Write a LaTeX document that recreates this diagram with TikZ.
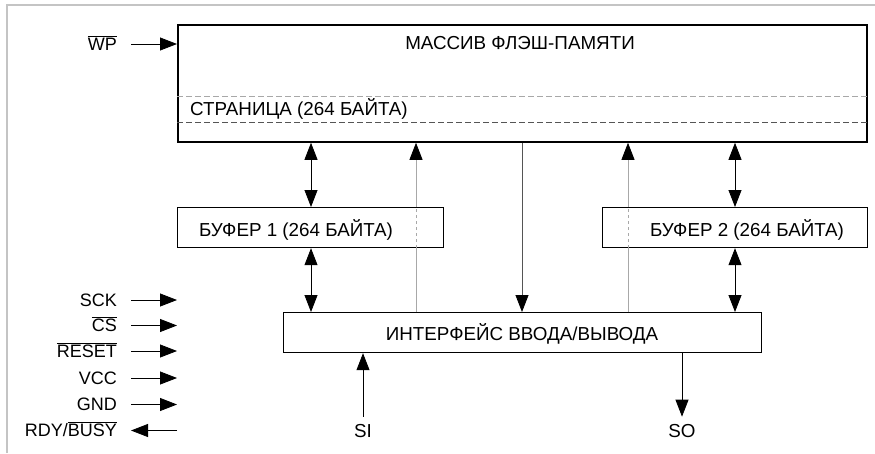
\documentclass[tikz,border=0pt]{standalone}
\usepackage{fontspec}
\setmainfont{Liberation Sans}
\usetikzlibrary{arrows.meta}
\newcommand\myovl[1]{$\overline{\mbox{#1}}$}
\definecolor{frame}{HTML}{C4C4C4}
\definecolor{lgrey}{HTML}{A8A8A8}
\definecolor{dgrey}{HTML}{555555}
\tikzset{
  txt/.style={font=\fontsize{18.8}{22}\selectfont, inner sep=0pt},
  lbl/.style={font=\fontsize{18}{21}\selectfont, inner sep=0pt, anchor=base east},
  blk/.style={draw, line width=1.2pt, inner sep=0pt, anchor=north west},
  tip/.style={line width=0.8pt, -{Triangle[length=17pt,width=13pt,color=black]}},
  dbl/.style={line width=0.8pt, {Triangle[length=17pt,width=13pt,color=black]}-{Triangle[length=17pt,width=13pt,color=black]}},
  faint/.style={draw=lgrey, line width=0.8pt},
  pagedash/.style={dash pattern=on 6pt off 3pt, line width=0.8pt}
}
\begin{document}
\begin{tikzpicture}[x=1pt,y=-1pt]
\useasboundingbox (0,0) rectangle (875,453);
\draw[frame, line width=2pt] (7,453) -- (7,4.5) -- (875,4.5);

% blocks
\node[blk, line width=1.8pt, minimum width=689pt, minimum height=117pt] (mem) at (177,24) {};
\node[blk, minimum width=266pt, minimum height=40pt] (buf1) at (177,207) {};
\node[blk, minimum width=265pt, minimum height=40pt] (buf2) at (602,207) {};
\node[blk, minimum width=478pt, minimum height=40pt] (io) at (283,312) {};

% texts
\node[txt, anchor=base] (memt) at (520,49) {МАССИВ ФЛЭШ-ПАМЯТИ};
\node[txt, anchor=base west] (paget) at (190,115) {СТРАНИЦА (264 БАЙТА)};
\draw[pagedash, draw=lgrey] ([yshift=-72pt]mem.north west) -- ([yshift=-72pt]mem.north east);
\draw[pagedash, draw=dgrey] ([yshift=-98pt]mem.north west) -- ([yshift=-98pt]mem.north east);
\node[txt, anchor=base] (buf1t) at (296,236) {БУФЕР 1 (264 БАЙТА)};
\node[txt, anchor=base] (buf2t) at (747,236) {БУФЕР 2 (264 БАЙТА)};
\node[txt, anchor=base] (iot) at (522,340) {ИНТЕРФЕЙС ВВОДА/ВЫВОДА};

% x positions of vertical connectors
\coordinate (xa) at (311,0);
\coordinate (xb) at (416,0);
\coordinate (xc) at (522,0);
\coordinate (xd) at (628,0);
\coordinate (xe) at (735,0);

\draw[dbl] (mem.south -| xa) -- (buf1.north -| xa);
\draw[dbl] (buf1.south -| xa) -- (io.north -| xa);
\draw[dbl] (mem.south -| xe) -- (buf2.north -| xe);
\draw[dbl] (buf2.south -| xe) -- (io.north -| xe);
\draw[tip, draw=dgrey] (mem.south -| xc) -- (io.north -| xc);

\draw[faint] (io.north -| xb) -- (buf1.south -| xb);
\draw[faint, dashed] (buf1.south -| xb) -- (buf1.north -| xb);
\draw[faint, tip] (buf1.north -| xb) -- (mem.south -| xb);
\draw[faint] (io.north -| xd) -- (buf2.south -| xd);
\draw[faint, dashed] (buf2.south -| xd) -- (buf2.north -| xd);
\draw[faint, tip] (buf2.north -| xd) -- (mem.south -| xd);

% SI / SO
\node[txt, anchor=base] (si) at (363,437) {SI};
\node[txt, anchor=base] (so) at (682,437) {SO};
\draw[tip] ([yshift=7pt]si.north) -- (io.south -| si);
\draw[tip] (io.south -| so) -- ([yshift=7pt]so.north);

% WP
\node[lbl] (wp) at (117,50) {\myovl{WP}};
\draw[tip] ([xshift=14pt,yshift=6pt]wp.base east) -- ([yshift=6pt]wp.base east -| mem.west);

% left signals
\node[lbl] (sck) at (117,306) {SCK};
\node[lbl] (cs) at (117,331.5) {\myovl{CS}};
\node[lbl] (rst) at (117,357) {\myovl{RESET}};
\node[lbl] (vcc) at (117,384) {VCC};
\node[lbl] (gnd) at (117,410.5) {GND};
\node[lbl] (rdy) at (117,436.5) {RDY/\myovl{BUSY}};
\draw[tip] ([xshift=14pt,yshift=6pt]sck.base east) -- ++(46,0);
\draw[tip] ([xshift=14pt,yshift=6pt]cs.base east) -- ++(46,0);
\draw[tip] ([xshift=14pt,yshift=6pt]rst.base east) -- ++(46,0);
\draw[tip] ([xshift=14pt,yshift=6pt]vcc.base east) -- ++(46,0);
\draw[tip] ([xshift=14pt,yshift=6pt]gnd.base east) -- ++(46,0);
\draw[tip] ([xshift=60pt,yshift=6pt]rdy.base east) -- ++(-46,0);
\end{tikzpicture}
\end{document}
